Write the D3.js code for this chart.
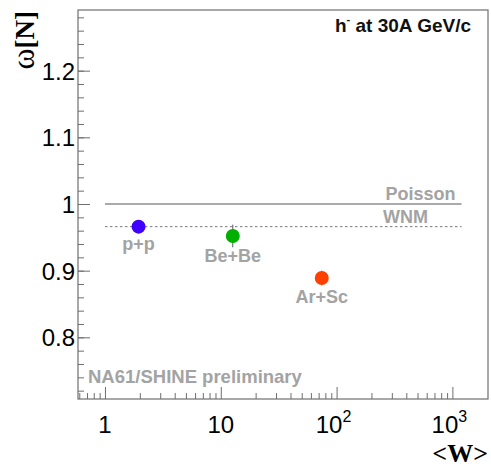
<!DOCTYPE html>
<html><head><meta charset="utf-8">
<script src="https://cdn.jsdelivr.net/npm/d3@7"></script>
<style>body{margin:0;background:#fff}svg{display:block}</style>
</head><body><svg id="c" width="491" height="469"></svg>
<script>
const systems = ["p+p", "Be+Be", "Ar+Sc"];
const meanW = [1.95, 12.7, 74.5];
const omegaN = [0.966, 0.952, 0.889];
const omegaErr = [0.004, 0.017, 0.011];
const pointColors = ["#3f00ff", "#00b000", "#ff4000"];
const yTicks = [0.8, 0.9, 1, 1.1, 1.2];
const yTickLabels = ["0.8", "0.9", "1", "1.1", "1.2"];
const xTicks = [1, 10, 100, 1000];
const poissonLevel = 1;
const wnmLevel = 0.966;
const refLineRange = [1, 1200];

const svg = d3.select("#c");
const L = 78, R = 488, T = 10, B = 399;
const x = d3.scaleLog().domain([0.585, 2030]).range([L, R]);
const y = d3.scaleLinear().domain([0.7075, 1.291]).range([B, T]);
const frameCol = "#6e6e6e";
const gray = "#a3a3a3";

// frame
svg.append("rect").attr("x", L).attr("y", T).attr("width", R - L).attr("height", B - T)
  .attr("fill", "none").attr("stroke", frameCol).attr("stroke-width", 1.2);

// y axis ticks
const yMinor = d3.range(0.72, 1.2901, 0.02).filter(v => y(v) > T + 1 && y(v) < B - 1);
const yAxis = d3.axisLeft(y).tickValues(yMinor).tickSize(-6).tickFormat("");
const gy = svg.append("g").attr("transform", `translate(${L},0)`).call(yAxis);
gy.select(".domain").remove();
gy.selectAll("line").attr("stroke", frameCol);
const yMajor = d3.axisLeft(y).tickValues(yTicks).tickSize(-12).tickFormat("");
const gy2 = svg.append("g").attr("transform", `translate(${L},0)`).call(yMajor);
gy2.select(".domain").remove();
gy2.selectAll("line").attr("stroke", frameCol);
svg.selectAll(".ylab").data(yTicks).enter().append("text")
  .attr("x", 75).attr("y", d => y(d) + 9)
  .attr("text-anchor", "end").attr("font-family", "Liberation Sans, Arial, sans-serif")
  .attr("font-size", 24).attr("fill", "#000").text((d, i) => yTickLabels[i]);

// x axis ticks
const xMinor = [];
[0.1, 1, 10, 100, 1000].forEach(dec => { for (let k = 2; k <= 9; k++) { const v = dec * k; if (x(v) > L + 1 && x(v) < R - 1) xMinor.push(v); } });
const gx = svg.append("g").attr("transform", `translate(0,${B})`)
  .call(d3.axisBottom(x).tickValues(xMinor).tickSize(-6).tickFormat(""));
gx.select(".domain").remove();
gx.selectAll("line").attr("stroke", frameCol);
const gx2 = svg.append("g").attr("transform", `translate(0,${B})`)
  .call(d3.axisBottom(x).tickValues(xTicks).tickSize(-12).tickFormat(""));
gx2.select(".domain").remove();
gx2.selectAll("line").attr("stroke", frameCol);
xTicks.forEach(v => {
  const e = Math.round(Math.log10(v));
  const t = svg.append("text").attr("y", 433).attr("font-family", "Liberation Sans, Arial, sans-serif")
    .attr("font-size", 24).attr("fill", "#000");
  if (e <= 1) {
    t.attr("x", x(v)).attr("text-anchor", "middle").text(String(v));
  } else {
    t.attr("x", x(v) - 3).attr("text-anchor", "middle");
    t.append("tspan").text("10");
    t.append("tspan").attr("font-size", 16).attr("dy", -11).text(String(e));
  }
});

// reference lines
svg.append("line").attr("x1", x(refLineRange[0])).attr("x2", x(refLineRange[1]))
  .attr("y1", y(poissonLevel)).attr("y2", y(poissonLevel))
  .attr("stroke", "#aaaaaa").attr("stroke-width", 2);
svg.append("line").attr("x1", x(refLineRange[0])).attr("x2", x(refLineRange[1]))
  .attr("y1", y(wnmLevel)).attr("y2", y(wnmLevel))
  .attr("stroke", "#777").attr("stroke-width", 1).attr("stroke-dasharray", "2.5,2.5");
svg.append("text").attr("x", x(refLineRange[1]) - 6).attr("y", 200)
  .attr("text-anchor", "end").attr("font-family", "Liberation Sans, Arial, sans-serif")
  .attr("font-weight", "bold").attr("font-size", 18).attr("fill", gray).text("Poisson");
svg.append("text").attr("x", 383).attr("y", 223)
  .attr("font-family", "Liberation Sans, Arial, sans-serif")
  .attr("font-weight", "bold").attr("font-size", 18).attr("fill", gray).text("WNM");

// error bars & points
const pts = systems.map((s, i) => ({ s, w: meanW[i], o: omegaN[i], e: omegaErr[i], c: pointColors[i] }));
svg.selectAll(".eb").data(pts).enter().append("line")
  .attr("x1", d => x(d.w)).attr("x2", d => x(d.w))
  .attr("y1", d => y(d.o + d.e)).attr("y2", d => y(d.o - d.e))
  .attr("stroke", "#555").attr("stroke-width", 1);
svg.selectAll(".pt").data(pts).enter().append("circle")
  .attr("cx", d => x(d.w)).attr("cy", d => y(d.o)).attr("r", 7).attr("fill", d => d.c);
const labDy = [23, 26, 25];
svg.selectAll(".pl").data(pts).enter().append("text")
  .attr("x", d => x(d.w)).attr("y", (d, i) => y(d.o) + labDy[i])
  .attr("text-anchor", "middle").attr("font-family", "Liberation Sans, Arial, sans-serif")
  .attr("font-weight", "bold").attr("font-size", 18).attr("fill", gray).text(d => d.s);

// annotations
svg.append("text").attr("x", 88).attr("y", 383)
  .attr("font-family", "Liberation Sans, Arial, sans-serif")
  .attr("font-weight", "bold").attr("font-size", 18.5).attr("fill", gray).text("NA61/SHINE preliminary");
const ht = svg.append("text").attr("x", 471).attr("y", 31.5).attr("text-anchor", "end")
  .attr("font-family", "Liberation Sans, Arial, sans-serif").attr("font-weight", "bold")
  .attr("font-size", 19).attr("fill", "#111");
ht.append("tspan").text("h");
ht.append("tspan").attr("font-size", 11).attr("dy", -9).text("-");
ht.append("tspan").attr("dy", 9).text(" at 30A GeV/c");

// axis titles
const yt = svg.append("text").attr("transform", "translate(34,11) rotate(-90)")
  .attr("text-anchor", "end").attr("font-family", "Liberation Serif, Times New Roman, serif")
  .attr("font-size", 27).attr("fill", "#000");
yt.append("tspan").attr("font-size", 32).text("ω");
yt.append("tspan").attr("font-weight", "bold").text("[N]");
svg.append("text").attr("x", 488).attr("y", 462).attr("text-anchor", "end")
  .attr("font-family", "Liberation Serif, Times New Roman, serif").attr("font-weight", "bold")
  .attr("font-size", 26).attr("fill", "#000").text("<W>");
</script></body></html>
